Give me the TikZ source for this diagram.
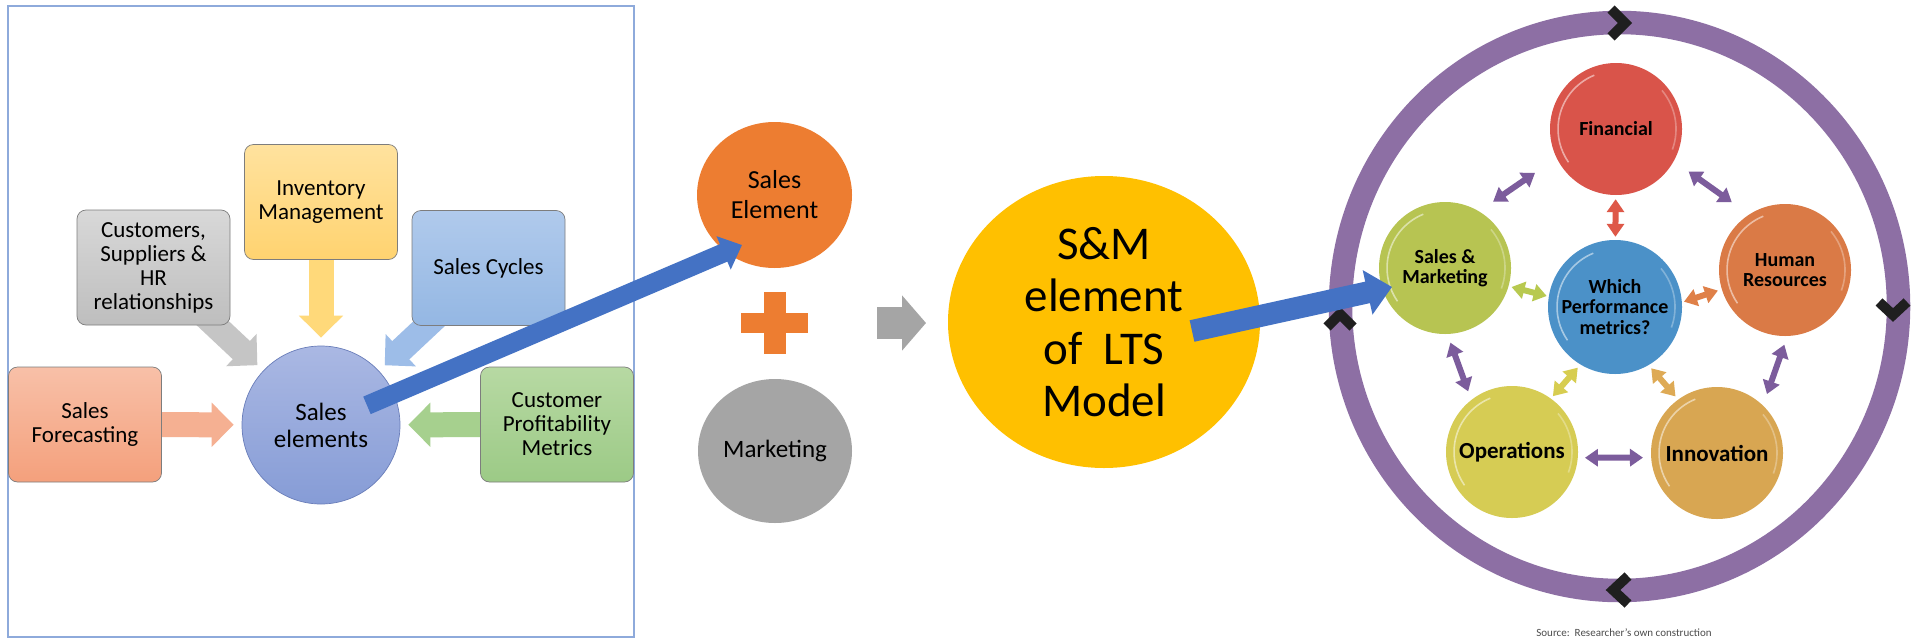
\documentclass[tikz,border=0pt]{standalone}
\usepackage{fontspec}
\setmainfont{Carlito}
\usetikzlibrary{arrows.meta,shapes.geometric,calc}
\pgfdeclarelayer{background}
\pgfsetlayers{background,main}
\definecolor{frameblue}{RGB}{142,170,219}
\definecolor{boxgray}{RGB}{125,125,125}
\definecolor{fcTop}{RGB}{248,192,168}
\definecolor{fcBot}{RGB}{244,160,124}
\definecolor{fcArr}{RGB}{245,176,146}
\definecolor{cuTop}{RGB}{216,216,216}
\definecolor{cuBot}{RGB}{190,190,190}
\definecolor{cuArr}{RGB}{197,197,197}
\definecolor{inTop}{RGB}{255,226,158}
\definecolor{inBot}{RGB}{255,211,112}
\definecolor{inArr}{RGB}{255,217,122}
\definecolor{cyTop}{RGB}{176,202,236}
\definecolor{cyBot}{RGB}{148,183,227}
\definecolor{cyArr}{RGB}{157,189,232}
\definecolor{prTop}{RGB}{183,217,163}
\definecolor{prBot}{RGB}{156,202,134}
\definecolor{prArr}{RGB}{166,208,142}
\definecolor{seTop}{RGB}{170,184,227}
\definecolor{seBot}{RGB}{134,156,214}
\definecolor{seLine}{RGB}{105,125,185}
\definecolor{arrBlue}{RGB}{68,114,196}
\definecolor{offOrange}{RGB}{237,125,49}
\definecolor{offGray}{RGB}{165,165,165}
\definecolor{offGold}{RGB}{255,192,0}
\definecolor{ringPurple}{RGB}{141,111,164}
\definecolor{dblPurple}{RGB}{124,92,156}
\definecolor{cFin}{RGB}{217,84,74}
\definecolor{cSM}{RGB}{183,196,82}
\definecolor{cWP}{RGB}{75,145,200}
\definecolor{cHR}{RGB}{218,122,70}
\definecolor{cOp}{RGB}{214,204,84}
\definecolor{cIn}{RGB}{216,166,82}
\definecolor{aRed}{RGB}{222,88,72}
\definecolor{aGreen}{RGB}{184,201,80}
\definecolor{aOrange}{RGB}{223,128,72}
\definecolor{aYellow}{RGB}{215,205,80}
\definecolor{aGold}{RGB}{222,170,85}
\begin{document}
\begin{tikzpicture}[x=1pt,y=-1pt,
  lbox/.style={draw=boxgray, line width=0.7pt, rounded corners=9pt, minimum width=153pt, minimum height=115pt, inner sep=1pt, align=center, font=\fontsize{23}{24}\selectfont},
  blk/.style={line width=25pt, -{Triangle[length=22pt 0 0,width=43pt 0 0]}, shorten >=8pt},
  blueone/.style={draw=arrBlue, line width=19pt, -{Triangle[length=20pt 0 0,width=35pt 0 0]}},
  bluetwo/.style={draw=arrBlue, line width=22pt, -{Triangle[length=25pt 0 0,width=44pt 0 0]}},
  oval/.style={ellipse, inner sep=0pt, align=center},
  ball/.style={circle, minimum size=132pt, inner sep=0pt, align=center, font=\bfseries\fontsize{20}{20.5}\selectfont},
  dbl/.style={line width=6pt, {Triangle[length=13pt 0 0,width=17pt 0 0]}-{Triangle[length=13pt 0 0,width=17pt 0 0]}},
  chev/.style={line width=10pt, line join=miter, draw=black!88},
  gloss/.style={draw=white, opacity=0.5, line width=1.6pt},
]
\useasboundingbox (0,0) rectangle (1913,640);
\begin{pgfonlayer}{background}
\fill[white] (0,0) rectangle (1913,640);
\end{pgfonlayer}

% ---------- left panel ----------
\draw[frameblue, line width=1.4pt] (8,6) rectangle (634,637);

\node[lbox, top color=fcTop, bottom color=fcBot] (fc) at (85,424.5) {Sales\\Forecasting};
\node[lbox, top color=cuTop, bottom color=cuBot] (cust) at (153.5,267.5) {Customers,\\Suppliers \&\\HR\\relationships};
\node[lbox, top color=inTop, bottom color=inBot] (inv) at (321,202) {Inventory\\Management};
\node[lbox, top color=cyTop, bottom color=cyBot] (cyc) at (488.5,268) {Sales Cycles};
\node[lbox, top color=prTop, bottom color=prBot] (prof) at (557,424.5) {Customer\\Profitability\\Metrics};
\node[circle, minimum size=158pt, inner sep=0pt, draw=seLine, line width=0.7pt, top color=seTop, bottom color=seBot, align=center, font=\fontsize{25}{27}\selectfont] (se) at (321,425) {Sales\\elements};

\begin{pgfonlayer}{background}
\draw[blk, fcArr] (fc.center) -- (se);
\draw[blk, cuArr] (cust.center) -- (se);
\draw[blk, inArr] (inv.center) -- (se);
\draw[blk, cyArr] (cyc.center) -- (se);
\draw[blk, prArr] (prof.center) -- (se);
\end{pgfonlayer}

% ---------- middle ----------
\node[oval, fill=offOrange, minimum width=155pt, minimum height=146pt, font=\fontsize{26}{30}\selectfont] (sel) at (774.5,195) {Sales\\Element};
\node[oval, fill=offGray, minimum width=154pt, minimum height=144pt, font=\fontsize{25}{27}\selectfont] (mkt) at (775,451) {Marketing};
\fill[offOrange] (741,313) rectangle (808,333);
\fill[offOrange] (764,292) rectangle (786,354);
\coordinate (g1) at (877,323);
\coordinate (g2) at (926,323);
\draw[offGray, line width=32pt, -{Triangle[length=24pt 0 0,width=54pt 0 0]}] (g1) -- (g2);
\node[oval, fill=offGold, minimum width=312pt, minimum height=292pt, font=\fontsize{47}{52.5}\selectfont] (lts) at (1104,322) {S\&M\\element\\of\ \ LTS\\Model};

\coordinate (b1tip) at (742,245);
\draw[blueone, shorten <=50pt] (se.center) -- (b1tip);

% ---------- right panel ----------
\draw[ringPurple, line width=23.5pt] (1619.5,306.5) ellipse [x radius=279pt, y radius=284pt];
\draw[chev] (1611,9) -- (1625,23) -- (1611,37);
\draw[chev] (1879,302) -- (1893,315) -- (1907,302);
\draw[chev] (1628,576) -- (1613,590) -- (1628,604);
\draw[chev] (1327,327) -- (1340,314) -- (1353,327);

\node[ball, fill=cFin] (fin) at (1616,129) {Financial};
\node[ball, fill=cSM] (sm) at (1445,268) {Sales \&\\Marketing};
\node[ball, fill=cWP, minimum size=134pt] (wp) at (1615,307) {Which\\Performance\\metrics?};
\node[ball, fill=cHR] (hr) at (1785,270) {Human\\Resources};
\node[ball, fill=cOp, font=\bfseries\fontsize{23}{24}\selectfont] (op) at (1512,452) {Operations};
\node[ball, fill=cIn, font=\bfseries\fontsize{23}{24}\selectfont] (inn) at (1717,453) {Innovation};

\foreach \n in {fin,sm,wp,hr,op,inn}{
  \draw[gloss] (\n.center) ++(112:58pt) arc[start angle=112, end angle=215, radius=58pt];
  \draw[gloss, opacity=0.3] (\n.center) ++(-20:60pt) arc[start angle=-20, end angle=40, radius=60pt];
}

\draw[dbl, dblPurple, shorten <=26pt, shorten >=17pt] (fin.206) -- (sm.59);
\draw[dbl, dblPurple, shorten <=18pt, shorten >=21pt] (fin.331) -- (hr.123);
\draw[dbl, dblPurple, shorten <=9pt, shorten >=9pt] (sm.272) -- (op.128);
\draw[dbl, dblPurple, shorten <=9pt, shorten >=12pt] (hr.272) -- (inn.46);
\draw[dbl, dblPurple, shorten <=7pt, shorten >=8pt] (op.-5) -- (inn.184);
\draw[dbl, aRed, shorten <=4pt, shorten >=3pt] (fin) -- (wp);
\draw[dbl, aGreen, shorten <=3pt, shorten >=2pt] (sm.344) -- (wp.171);
\draw[dbl, aOrange, shorten <=2pt, shorten >=4pt] (wp.4) -- (hr.197);
\draw[dbl, aYellow, shorten <=4pt, shorten >=3pt] (wp.239) -- (op.54);
\draw[dbl, aGold, shorten <=4pt, shorten >=4pt] (wp.300) -- (inn.126);

\coordinate (b2tail) at (1192,331);
\coordinate (b2tip) at (1392,287);
\draw[bluetwo] (b2tail) -- (b2tip);

\node[inner sep=0pt, text=black!70, font=\fontsize{11}{12}\selectfont] (src) at (1624,633) {Source:\ \ Researcher's own construction};
\end{tikzpicture}
\end{document}
